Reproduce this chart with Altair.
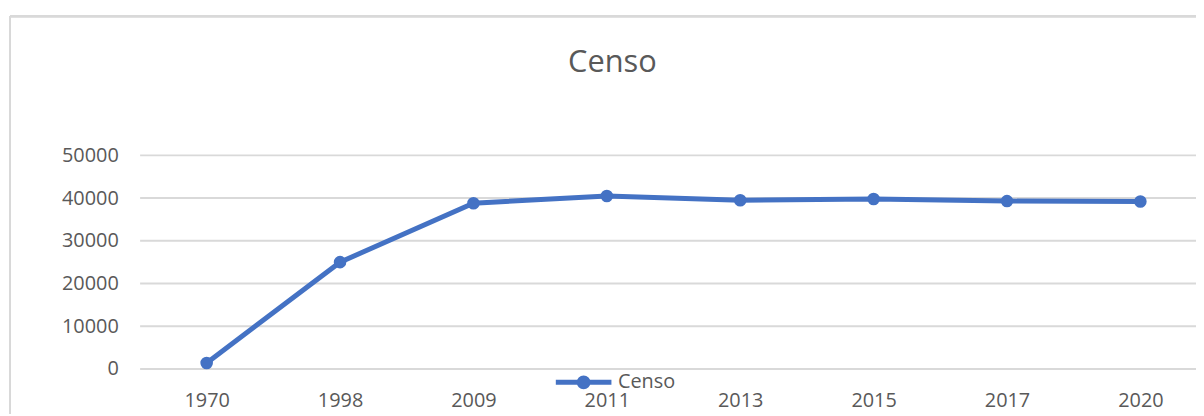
import altair as alt
import pandas as pd

years = ["1970", "1998", "2009", "2011", "2013", "2015", "2017", "2020"]
censo = [1400, 25000, 38800, 40500, 39500, 39800, 39300, 39200]
series_name = "Censo"
y_ticks = [0, 10000, 20000, 30000, 40000, 50000]

df = pd.DataFrame({"Año": years, "Valor": censo, "Serie": [series_name] * len(years)})
grid_df = pd.DataFrame({"Valor": y_ticks})

FONT = "Open Sans"
TXT = "#595959"
BLUE = "#4472C4"
GRID = "#d9d9d9"

x_enc = alt.X("Año:N", sort=years, title=None,
              scale=alt.Scale(type="point", range=[67, 1007], padding=0),
              axis=alt.Axis(labelAngle=0, ticks=False, domain=False, grid=False,
                            labelPadding=22, labelFontSize=20, labelColor=TXT, labelFont=FONT))
y_scale = alt.Scale(domain=[0, 50000], nice=False)
y_axis = alt.Axis(values=y_ticks, ticks=False, domain=False, grid=False,
                  labelPadding=22, labelFontSize=20, labelColor=TXT, labelFont=FONT, format="d")
y_enc = alt.Y("Valor:Q", title=None, scale=y_scale, axis=y_axis)
color_enc = alt.Color("Serie:N", title=None,
                      scale=alt.Scale(domain=[series_name], range=[BLUE]),
                      legend=alt.Legend(orient="none", legendX=416, legendY=198,
                                        symbolType="M-1,0H1M0.16,0A0.16,0.16 0 1,1 -0.16,0A0.16,0.16 0 1,1 0.16,0",
                                        symbolSize=3136, symbolStrokeWidth=5,
                                        symbolFillColor=BLUE, symbolStrokeColor=BLUE,
                                        labelFontSize=20, labelColor=TXT, labelFont=FONT,
                                        labelOffset=4, padding=0))

grid = alt.Chart(grid_df).mark_rule(color=GRID, strokeWidth=2).encode(
    y=y_enc, x=alt.value(0), x2=alt.value(1100))

line = alt.Chart(df).mark_line(strokeWidth=5).encode(x=x_enc, y=y_enc, color=color_enc)
pts = alt.Chart(df).mark_circle(size=160, opacity=1).encode(x=x_enc, y=y_enc, color=color_enc)

frame_v = alt.Chart(grid_df).mark_rule(color=GRID, strokeWidth=2).encode(
    x=alt.value(-131), y=alt.value(-140), y2=alt.value(300))
frame_h = alt.Chart(grid_df).mark_rule(color=GRID, strokeWidth=2).encode(
    x=alt.value(-131), x2=alt.value(1100), y=alt.value(-140))

chart = alt.layer(frame_v, frame_h, grid, line, pts).properties(
    width=1063, height=215,
    title=alt.TitleParams("Censo", fontSize=31, font=FONT, color=TXT, fontWeight="normal",
                          anchor="middle", frame="group", dx=-56, offset=-88,
                          baseline="alphabetic"),
    autosize=alt.AutoSizeParams(type="none"),
    padding={"left": 133, "top": 147, "right": 0, "bottom": 44},
).configure(background="white").configure_view(stroke=None)

chart.save("out.html", embed_options={"renderer": "svg", "actions": False})
